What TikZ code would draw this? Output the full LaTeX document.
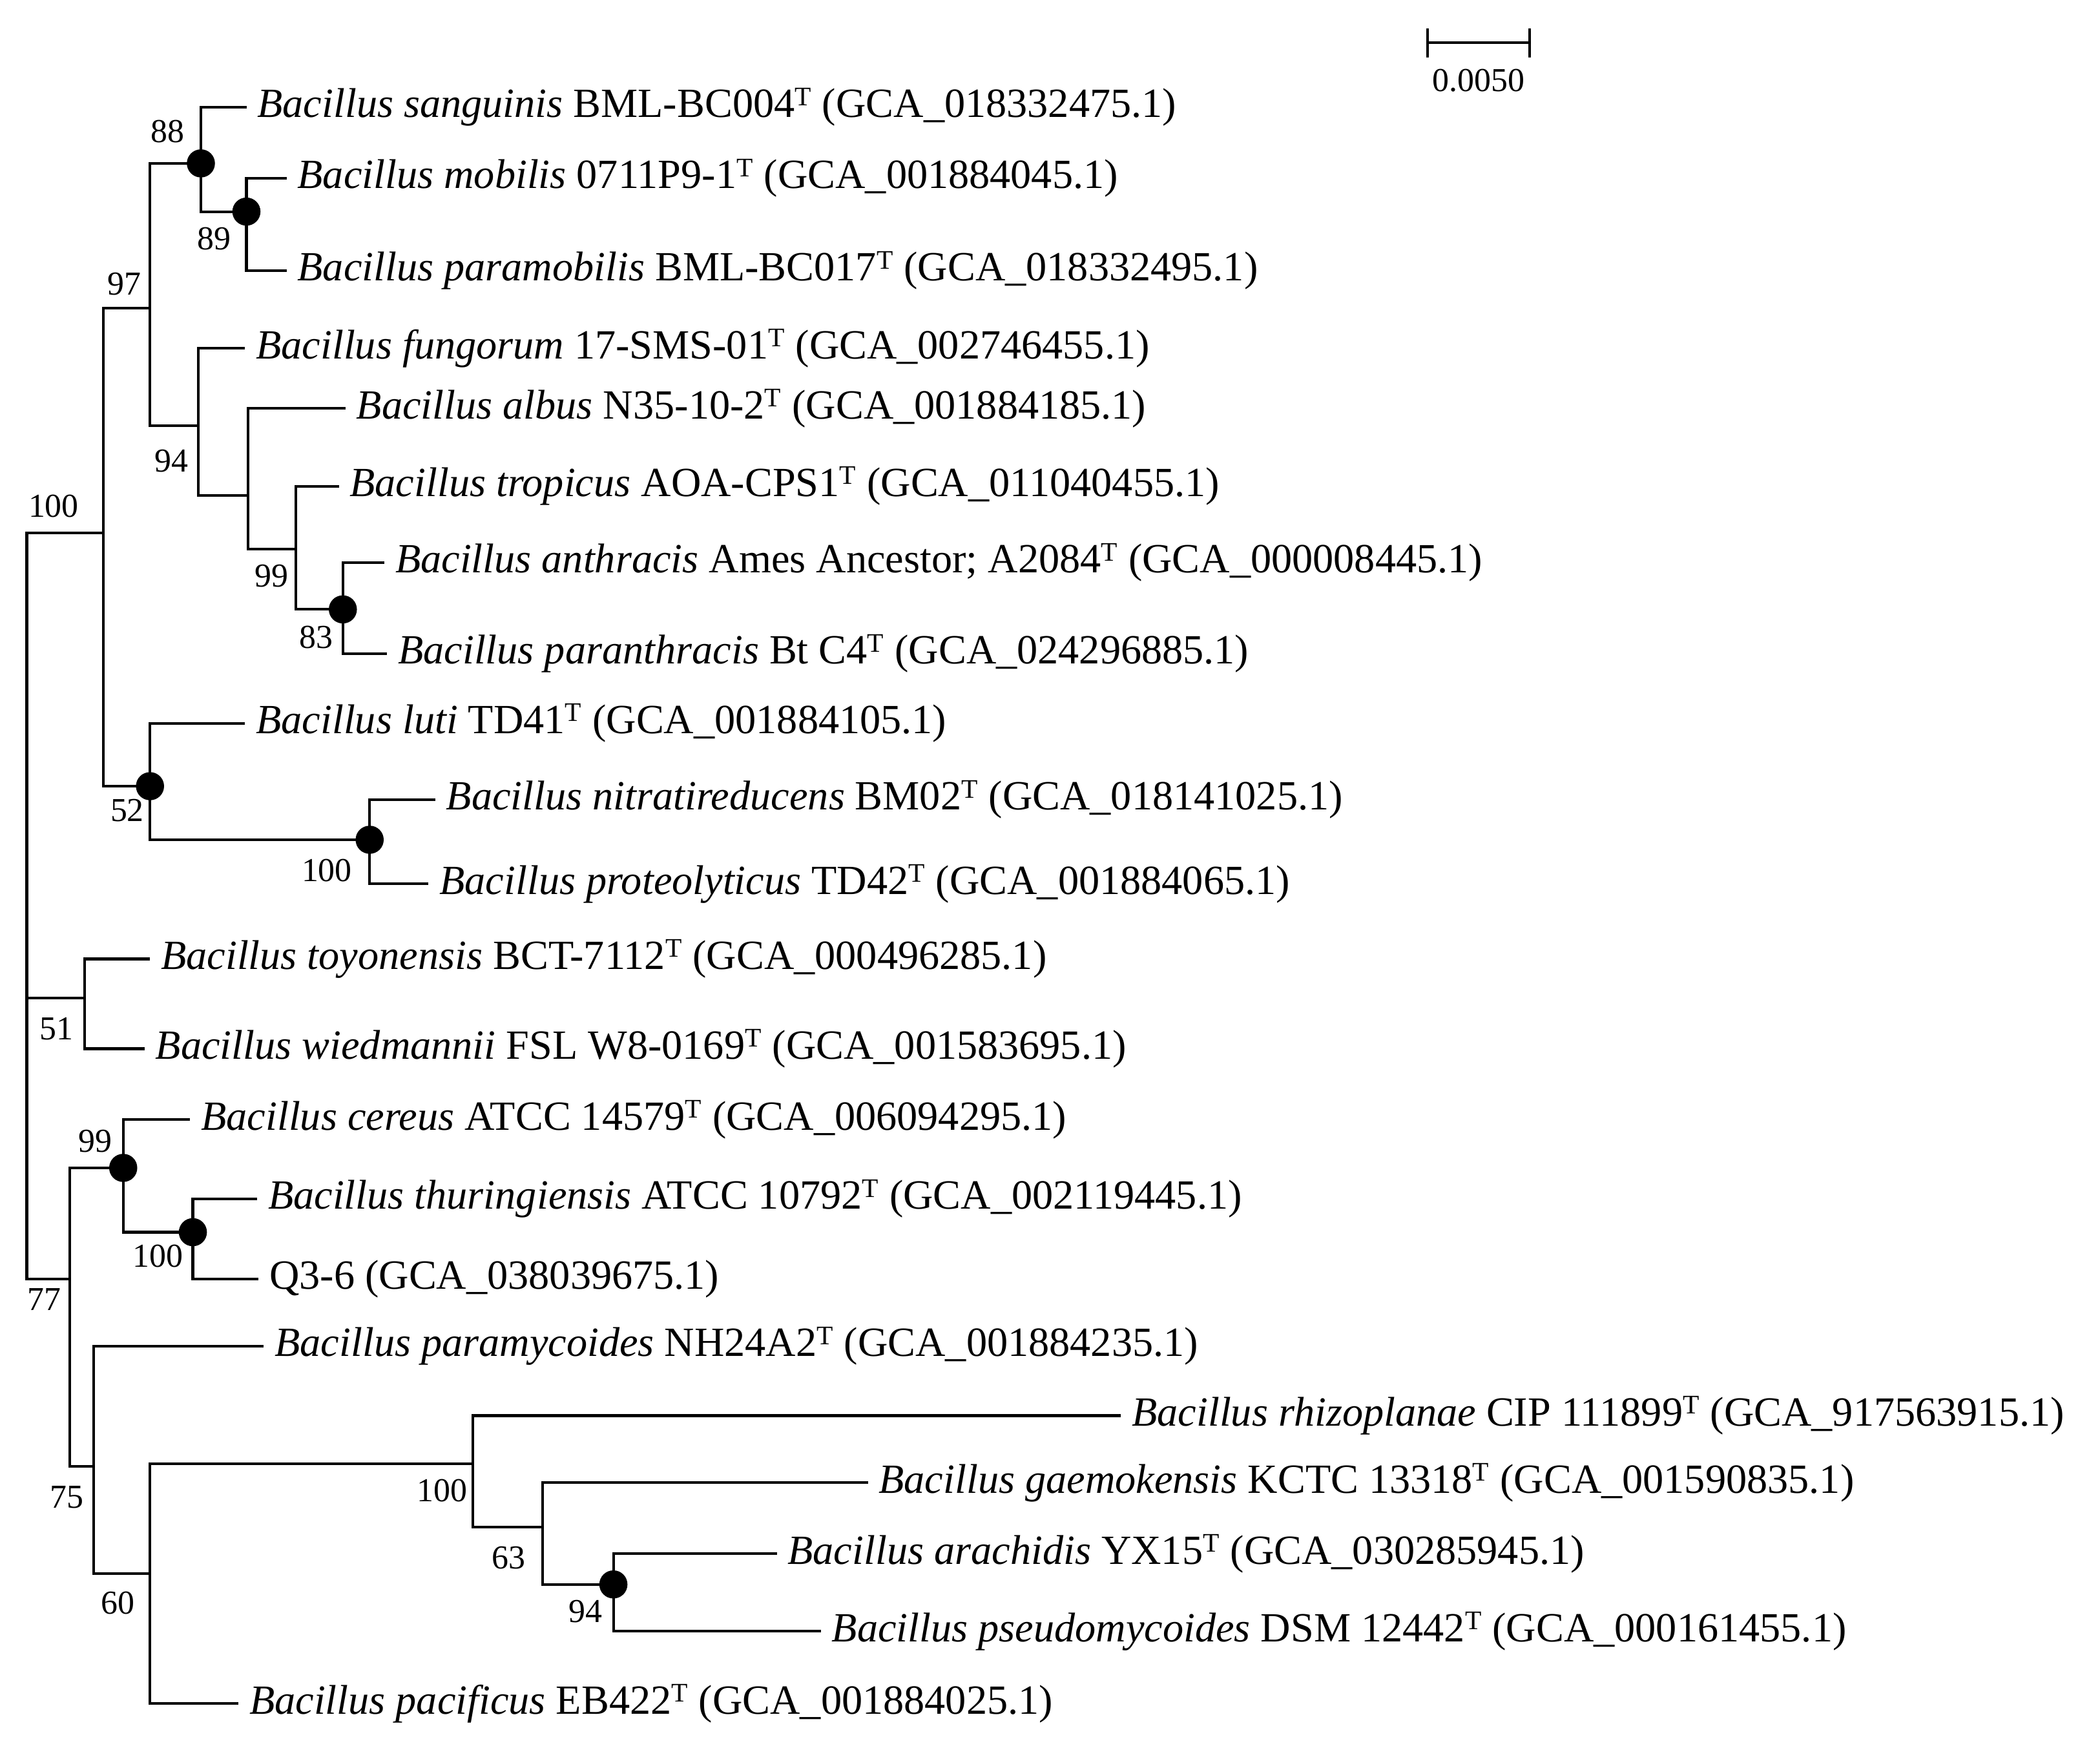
\documentclass[tikz,border=0pt]{standalone}
\usepackage{fontspec}
\setmainfont{Liberation Serif}
\begin{document}
\begin{tikzpicture}[x=1pt,y=-1pt,
  br/.style={line width=2pt},
  tip/.style={anchor=west,inner xsep=8pt,inner ysep=0pt,font=\fontsize{31}{34}\selectfont},
  bs/.style={font=\fontsize{25}{27}\selectfont,inner sep=0pt},
  dot/.style={fill=black,circle,inner sep=0pt,minimum size=21pt}]
\useasboundingbox (0,0) rectangle (1568,1305);
\newcommand{\bsp}[2]{\textit{Bacillus #1} #2}
\newcommand{\tsup}{\textsuperscript{\fontsize{20}{20}\selectfont T}}
% internal nodes
\coordinate (root) at (20,700);
\coordinate (c100a) at (77,398);
\coordinate (c97) at (112,230);
\coordinate (c88) at (150,122);
\coordinate (c89) at (184,158);
\coordinate (c94) at (148,318);
\coordinate (c99a) at (185,370);
\coordinate (c99b) at (221,410);
\coordinate (c83) at (256,455);
\coordinate (c52) at (112,587);
\coordinate (c100b) at (276,627);
\coordinate (c51) at (63,745);
\coordinate (c77) at (52,955);
\coordinate (c99c) at (92,872);
\coordinate (c100c) at (144,920);
\coordinate (c75) at (70,1095);
\coordinate (c60) at (112,1175);
\coordinate (c100d) at (353,1093);
\coordinate (c63) at (405,1140);
\coordinate (c94b) at (458,1183);
% tips
\node[tip] (t1) at (184,80) {\bsp{sanguinis}{BML-BC004\tsup} (GCA\_018332475.1)};
\node[tip] (t2) at (214,133) {\bsp{mobilis}{0711P9-1\tsup} (GCA\_001884045.1)};
\node[tip] (t3) at (214,202) {\bsp{paramobilis}{BML-BC017\tsup} (GCA\_018332495.1)};
\node[tip] (t4) at (183,260) {\bsp{fungorum}{17-SMS-01\tsup} (GCA\_002746455.1)};
\node[tip] (t5) at (258,305) {\bsp{albus}{N35-10-2\tsup} (GCA\_001884185.1)};
\node[tip] (t6) at (253,363) {\bsp{tropicus}{AOA-CPS1\tsup} (GCA\_011040455.1)};
\node[tip] (t7) at (287,420) {\bsp{anthracis}{Ames Ancestor; A2084\tsup} (GCA\_000008445.1)};
\node[tip] (t8) at (289,488) {\bsp{paranthracis}{Bt C4\tsup} (GCA\_024296885.1)};
\node[tip] (t9) at (183,540) {\bsp{luti}{TD41\tsup} (GCA\_001884105.1)};
\node[tip] (t10) at (325,597) {\bsp{nitratireducens}{BM02\tsup} (GCA\_018141025.1)};
\node[tip] (t11) at (320,660) {\bsp{proteolyticus}{TD42\tsup} (GCA\_001884065.1)};
\node[tip] (t12) at (112,716) {\bsp{toyonensis}{BCT-7112\tsup} (GCA\_000496285.1)};
\node[tip] (t13) at (108,783) {\bsp{wiedmannii}{FSL W8-0169\tsup} (GCA\_001583695.1)};
\node[tip] (t14) at (142,836) {\bsp{cereus}{ATCC 14579\tsup} (GCA\_006094295.1)};
\node[tip] (t15) at (192,895) {\bsp{thuringiensis}{ATCC 10792\tsup} (GCA\_002119445.1)};
\node[tip] (t16) at (193,955) {Q3-6 (GCA\_038039675.1)};
\node[tip] (t17) at (197,1005) {\bsp{paramycoides}{NH24A2\tsup} (GCA\_001884235.1)};
\node[tip] (t18) at (837,1057) {\bsp{rhizoplanae}{CIP 111899\tsup} (GCA\_917563915.1)};
\node[tip] (t19) at (648,1107) {\bsp{gaemokensis}{KCTC 13318\tsup} (GCA\_001590835.1)};
\node[tip] (t20) at (580,1160) {\bsp{arachidis}{YX15\tsup} (GCA\_030285945.1)};
\node[tip] (t21) at (613,1218) {\bsp{pseudomycoides}{DSM 12442\tsup} (GCA\_000161455.1)};
\node[tip] (t22) at (178,1272) {\bsp{pacificus}{EB422\tsup} (GCA\_001884025.1)};
% branches
\foreach \a/\b in {root/c100a,root/c51,root/c77,c100a/c97,c100a/c52,c97/c88,c97/c94,
  c88/c89,c94/c99a,c99a/c99b,c99b/c83,c52/c100b,c77/c99c,c77/c75,c99c/c100c,
  c75/c60,c60/c100d,c100d/c63,c63/c94b}
  \draw[br] (\a) |- (\b);
\foreach \a/\b in {c88/t1,c89/t2,c89/t3,c94/t4,c99a/t5,c99b/t6,c83/t7,c83/t8,c52/t9,
  c100b/t10,c100b/t11,c51/t12,c51/t13,c99c/t14,c100c/t15,c100c/t16,c75/t17,
  c100d/t18,c63/t19,c94b/t20,c94b/t21,c60/t22}
  \draw[br] (\a) |- (\b.west);
% dots
\foreach \n in {c88,c89,c83,c52,c100b,c99c,c100c,c94b}
  \node[dot] at (\n) {};
% bootstrap
\node[bs] (b1) at (40,378) {100};
\node[bs] (b2) at (93,212) {97};
\node[bs] (b3) at (125,98) {88};
\node[bs] (b4) at (160,178) {89};
\node[bs] (b5) at (128,344) {94};
\node[bs] (b6) at (203,430) {99};
\node[bs] (b7) at (236,476) {83};
\node[bs] (b8) at (95,605) {52};
\node[bs] (b9) at (244,650) {100};
\node[bs] (b10) at (42,768) {51};
\node[bs] (b11) at (71,852) {99};
\node[bs] (b12) at (118,938) {100};
\node[bs] (b13) at (33,970) {77};
\node[bs] (b14) at (50,1118) {75};
\node[bs] (b15) at (88,1197) {60};
\node[bs] (b16) at (330,1113) {100};
\node[bs] (b17) at (380,1163) {63};
\node[bs] (b18) at (437,1203) {94};
% scale bar
\coordinate (s1) at (1066,32);
\coordinate (s2) at (1142,32);
\draw[br] (s1) -- (s2);
\draw[br] ([yshift=-11pt]s1) -- ([yshift=11pt]s1);
\draw[br] ([yshift=-11pt]s2) -- ([yshift=11pt]s2);
\node[bs] (sl) at (1104,60) {0.0050};
\end{tikzpicture}
\end{document}
